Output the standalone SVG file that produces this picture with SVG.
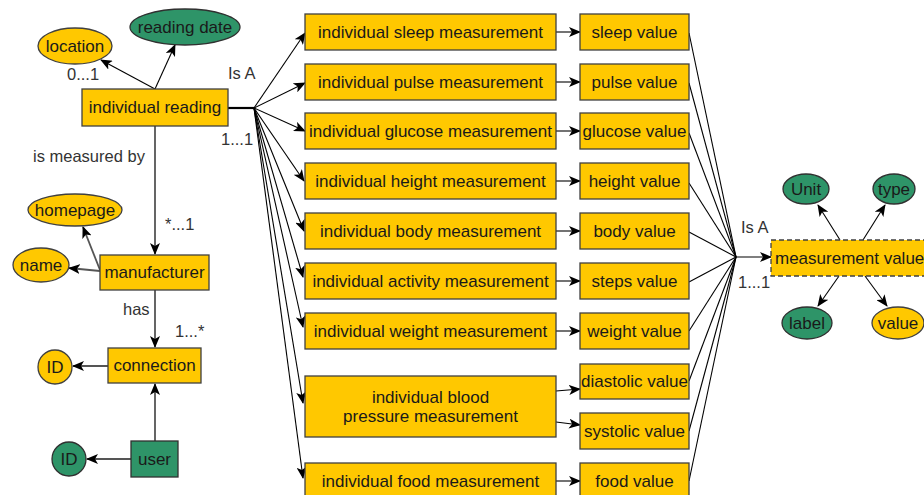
<svg xmlns="http://www.w3.org/2000/svg" width="924" height="495" viewBox="0 0 924 495">
<defs>
<marker id="ah" viewBox="0 0 12 10" refX="11" refY="5" markerWidth="12" markerHeight="10" markerUnits="userSpaceOnUse" orient="auto">
<path d="M0,0 L12,5 L0,10 L3,5 z" fill="#000"/>
</marker>
<style>
.y{fill:#FFC800;stroke:#404040;stroke-width:1.3}
.g{fill:#2E9468;stroke:#303030;stroke-width:1.3}
.t{font-family:"Liberation Sans",Arial,sans-serif;font-size:17px;fill:#1a1a1a;text-anchor:middle}
.l{font-family:"Liberation Sans",Arial,sans-serif;font-size:16.5px;fill:#333}
.c{stroke:#000;stroke-width:1.1;fill:none}
.a{marker-end:url(#ah)}
.c2{stroke:#555;stroke-width:1.8;fill:none}
</style>
</defs>
<rect width="924" height="495" fill="#fff"/>
<g id="connectors">
<line class="c a" x1="155" y1="89" x2="101" y2="60"/>
<line class="c a" x1="155" y1="89" x2="175" y2="45"/>
<line x1="228" y1="108" x2="254" y2="108" stroke="#000" stroke-width="2.2"/>
<line class="c a" x1="254" y1="108" x2="305" y2="33"/>
<line class="c a" x1="254" y1="108" x2="305" y2="83"/>
<line class="c a" x1="254" y1="108" x2="305" y2="131"/>
<line class="c a" x1="254" y1="108" x2="304" y2="181"/>
<line class="c a" x1="254" y1="108" x2="304" y2="231"/>
<line class="c a" x1="254" y1="108" x2="303" y2="277"/>
<line class="c a" x1="254" y1="108" x2="303" y2="327"/>
<line class="c a" x1="254" y1="108" x2="303" y2="403"/>
<line class="c a" x1="254" y1="108" x2="303" y2="478"/>
<line class="c a" x1="556" y1="32" x2="580" y2="32"/>
<line class="c a" x1="556" y1="82" x2="580" y2="82"/>
<line class="c a" x1="556" y1="131" x2="580" y2="131"/>
<line class="c a" x1="556" y1="181" x2="580" y2="181"/>
<line class="c a" x1="556" y1="231" x2="580" y2="231"/>
<line class="c a" x1="556" y1="281" x2="580" y2="281"/>
<line class="c a" x1="556" y1="331" x2="580" y2="331"/>
<line class="c a" x1="556" y1="391" x2="580" y2="389"/>
<line class="c a" x1="556" y1="422" x2="580" y2="425"/>
<line class="c a" x1="556" y1="481" x2="580" y2="481"/>
<line class="c" x1="689" y1="33" x2="736" y2="257"/>
<line class="c" x1="689" y1="83" x2="736" y2="257"/>
<line class="c" x1="689" y1="133" x2="736" y2="257"/>
<line class="c" x1="689" y1="183" x2="736" y2="257"/>
<line class="c" x1="689" y1="232" x2="736" y2="257"/>
<line class="c" x1="689" y1="282" x2="736" y2="257"/>
<line class="c" x1="689" y1="331" x2="736" y2="257"/>
<line class="c" x1="689" y1="381" x2="736" y2="257"/>
<line class="c" x1="689" y1="431" x2="736" y2="257"/>
<line class="c" x1="689" y1="481" x2="736" y2="257"/>
<line class="c a" x1="736" y1="257" x2="771" y2="257" stroke-width="1.6"/>
<line class="c a" x1="840" y1="240" x2="818" y2="205"/>
<line class="c a" x1="863" y1="240" x2="885" y2="205"/>
<line class="c a" x1="839" y1="276" x2="818" y2="306"/>
<line class="c a" x1="865" y1="276" x2="887" y2="306"/>
<line class="c2 a" x1="155" y1="126" x2="155" y2="254"/>
<line class="c2 a" x1="155" y1="290" x2="155" y2="347"/>
<line class="c2 a" x1="100" y1="271" x2="69" y2="268"/>
<line class="c2 a" x1="100" y1="270" x2="83" y2="227"/>
<line class="c2 a" x1="108" y1="366" x2="73" y2="366"/>
<line class="c2 a" x1="155" y1="441" x2="155" y2="384"/>
<line class="c2 a" x1="131" y1="459" x2="87" y2="459"/>
</g>
<g id="labels">
<text class="l" x="67" y="80">0...1</text>
<text class="l" x="228" y="79">Is A</text>
<text class="l" x="221" y="145">1...1</text>
<text class="l" x="33" y="162">is measured by</text>
<text class="l" x="165" y="230">*...1</text>
<text class="l" x="123" y="315">has</text>
<text class="l" x="175" y="337">1...*</text>
<text class="l" x="741" y="233">Is A</text>
<text class="l" x="738" y="288">1...1</text>
</g>
<g id="location"><ellipse class="y" cx="75" cy="46" rx="37" ry="18"/><text class="t" x="75" y="52">location</text></g>
<g id="reading-date"><ellipse class="g" cx="185" cy="27" rx="55" ry="18"/><text class="t" x="185" y="33">reading date</text></g>
<g id="individual-reading"><rect class="y" x="82" y="89" width="146" height="37"/><text class="t" x="155" y="113">individual reading</text></g>
<g id="homepage"><ellipse class="y" cx="75" cy="210" rx="47" ry="16"/><text class="t" x="75" y="216">homepage</text></g>
<g id="name"><ellipse class="y" cx="41" cy="265" rx="28" ry="17"/><text class="t" x="41" y="271">name</text></g>
<g id="manufacturer"><rect class="y" x="100" y="255" width="109" height="35"/><text class="t" x="154.5" y="278">manufacturer</text></g>
<g id="connection"><rect class="y" x="108" y="348" width="93" height="35"/><text class="t" x="154.5" y="371">connection</text></g>
<g id="id-connection"><circle class="y" cx="55" cy="367" r="17"/><text class="t" x="55" y="373">ID</text></g>
<g id="user"><rect class="g" x="131" y="441" width="47" height="36"/><text class="t" x="154.5" y="465">user</text></g>
<g id="id-user"><circle class="g" cx="69" cy="459" r="17"/><text class="t" x="69" y="465">ID</text></g>
<g id="m-sleep"><rect class="y" x="305" y="14" width="251" height="36"/><text class="t" x="430.5" y="38">individual sleep measurement</text></g>
<g id="m-pulse"><rect class="y" x="305" y="64" width="251" height="36"/><text class="t" x="430.5" y="88">individual pulse measurement</text></g>
<g id="m-glucose"><rect class="y" x="305" y="113" width="251" height="36"/><text class="t" x="430.5" y="137">individual glucose measurement</text></g>
<g id="m-height"><rect class="y" x="305" y="163" width="251" height="36"/><text class="t" x="430.5" y="187">individual height measurement</text></g>
<g id="m-body"><rect class="y" x="305" y="213" width="251" height="36"/><text class="t" x="430.5" y="237">individual body measurement</text></g>
<g id="m-activity"><rect class="y" x="305" y="263" width="251" height="36"/><text class="t" x="430.5" y="287">individual activity measurement</text></g>
<g id="m-weight"><rect class="y" x="305" y="313" width="251" height="36"/><text class="t" x="430.5" y="337">individual weight measurement</text></g>
<g id="m-blood"><rect class="y" x="305" y="376" width="251" height="61"/><text class="t" x="430.5" y="403">individual blood</text><text class="t" x="430.5" y="422">pressure measurement</text></g>
<g id="m-food"><rect class="y" x="305" y="463" width="251" height="36"/><text class="t" x="430.5" y="487">individual food measurement</text></g>
<g id="v-sleep"><rect class="y" x="580" y="14" width="109" height="36"/><text class="t" x="634.5" y="38">sleep value</text></g>
<g id="v-pulse"><rect class="y" x="580" y="64" width="109" height="36"/><text class="t" x="634.5" y="88">pulse value</text></g>
<g id="v-glucose"><rect class="y" x="580" y="113" width="109" height="36"/><text class="t" x="634.5" y="137">glucose value</text></g>
<g id="v-height"><rect class="y" x="580" y="163" width="109" height="36"/><text class="t" x="634.5" y="187">height value</text></g>
<g id="v-body"><rect class="y" x="580" y="213" width="109" height="36"/><text class="t" x="634.5" y="237">body value</text></g>
<g id="v-steps"><rect class="y" x="580" y="263" width="109" height="36"/><text class="t" x="634.5" y="287">steps value</text></g>
<g id="v-weight"><rect class="y" x="580" y="313" width="109" height="36"/><text class="t" x="634.5" y="337">weight value</text></g>
<g id="v-diastolic"><rect class="y" x="580" y="364" width="109" height="35"/><text class="t" x="634.5" y="387">diastolic value</text></g>
<g id="v-systolic"><rect class="y" x="580" y="413" width="109" height="36"/><text class="t" x="634.5" y="437">systolic value</text></g>
<g id="v-food"><rect class="y" x="580" y="463" width="109" height="36"/><text class="t" x="634.5" y="487">food value</text></g>
<g id="measurement-value"><rect class="y" x="771" y="240" width="160" height="36" stroke-dasharray="5,3"/><text class="t" x="775" y="264" style="text-anchor:start">measurement value</text></g>
<g id="unit"><ellipse class="g" cx="806" cy="189" rx="23" ry="15"/><text class="t" x="806" y="195">Unit</text></g>
<g id="type"><ellipse class="g" cx="894" cy="189" rx="21" ry="15"/><text class="t" x="894" y="195">type</text></g>
<g id="label"><ellipse class="g" cx="807" cy="323" rx="25" ry="16"/><text class="t" x="807" y="329">label</text></g>
<g id="value"><ellipse class="y" cx="898" cy="323" rx="26" ry="16"/><text class="t" x="898" y="329">value</text></g>
</svg>
